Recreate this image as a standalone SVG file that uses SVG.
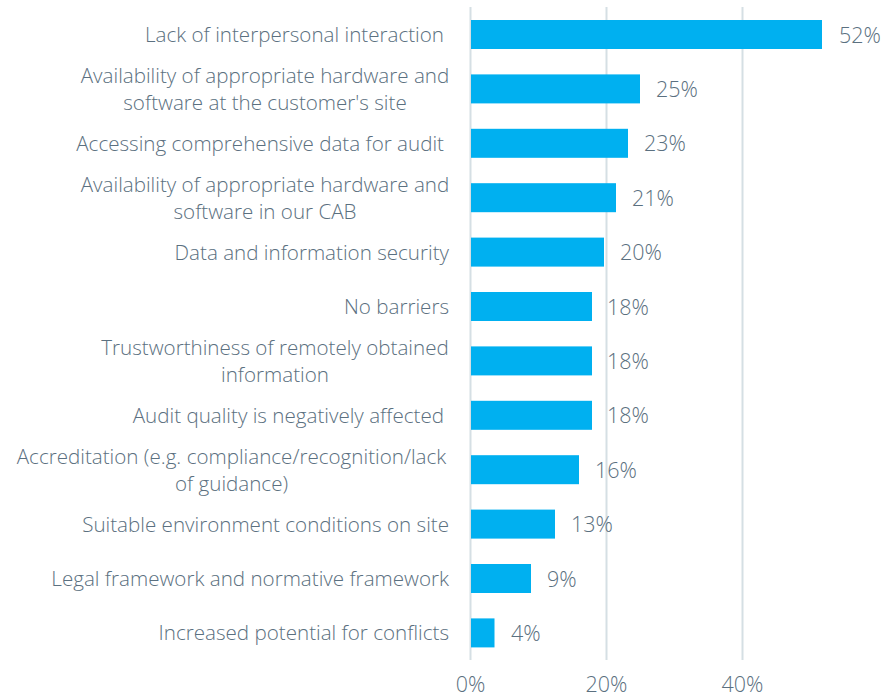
<svg xmlns="http://www.w3.org/2000/svg" width="886" height="699" viewBox="0 0 886 699">
<style>
.cat{font-family:"Open Sans","Liberation Sans",sans-serif;font-weight:300;font-size:20.6px;fill:#5b7080}
.val{font-family:"Open Sans","Liberation Sans",sans-serif;font-weight:300;font-size:21.5px;fill:#5b7080}
.grid{stroke:#d5dfe4;stroke-width:2}
.bar{fill:#00b0f0}
</style>
<rect width="886" height="699" fill="#ffffff"/>
<g id="gridlines">
<line class="grid" x1="470.5" y1="7" x2="470.5" y2="660"/>
<line class="grid" x1="606.5" y1="7" x2="606.5" y2="660"/>
<line class="grid" x1="742.5" y1="7" x2="742.5" y2="660"/>
</g>
<g id="axis">
<text class="val" x="470.5" y="692" text-anchor="middle">0%</text>
<text class="val" x="606.5" y="692" text-anchor="middle">20%</text>
<text class="val" x="742.5" y="692" text-anchor="middle">40%</text>
</g>
<g id="bar0"><rect class="bar" x="471" y="20" width="351" height="29"/><text class="cat" x="444" y="41.5" text-anchor="end">Lack of interpersonal interaction</text><text class="val" x="839" y="42.5">52%</text></g>
<g id="bar1"><rect class="bar" x="471" y="74.4" width="169" height="29"/><text class="cat" x="265" y="82.9" text-anchor="middle">Availability of appropriate hardware and</text><text class="cat" x="265" y="109.9" text-anchor="middle">software at the customer's site</text><text class="val" x="656" y="96.9">25%</text></g>
<g id="bar2"><rect class="bar" x="471" y="128.8" width="157" height="29"/><text class="cat" x="444" y="150.8" text-anchor="end">Accessing comprehensive data for audit</text><text class="val" x="644" y="151.3">23%</text></g>
<g id="bar3"><rect class="bar" x="471" y="183.2" width="145" height="29"/><text class="cat" x="265" y="191.7" text-anchor="middle">Availability of appropriate hardware and</text><text class="cat" x="265" y="218.7" text-anchor="middle">software in our CAB</text><text class="val" x="632" y="205.7">21%</text></g>
<g id="bar4"><rect class="bar" x="471" y="237.6" width="133" height="29"/><text class="cat" x="449" y="259.6" text-anchor="end">Data and information security</text><text class="val" x="620" y="260.1">20%</text></g>
<g id="bar5"><rect class="bar" x="471" y="292" width="121" height="29"/><text class="cat" x="449" y="314" text-anchor="end">No barriers</text><text class="val" x="607" y="314.5">18%</text></g>
<g id="bar6"><rect class="bar" x="471" y="346.4" width="121" height="29"/><text class="cat" x="275" y="354.9" text-anchor="middle">Trustworthiness of remotely obtained</text><text class="cat" x="275" y="381.9" text-anchor="middle">information</text><text class="val" x="607" y="368.9">18%</text></g>
<g id="bar7"><rect class="bar" x="471" y="400.8" width="121" height="29"/><text class="cat" x="444" y="422.8" text-anchor="end">Audit quality is negatively affected</text><text class="val" x="607" y="423.3">18%</text></g>
<g id="bar8"><rect class="bar" x="471" y="455.2" width="108" height="29"/><text class="cat" x="231.5" y="463.7" text-anchor="middle">Accreditation (e.g. compliance/recognition/lack</text><text class="cat" x="231.5" y="490.7" text-anchor="middle">of guidance)</text><text class="val" x="595" y="477.7">16%</text></g>
<g id="bar9"><rect class="bar" x="471" y="509.6" width="84" height="29"/><text class="cat" x="449" y="531.6" text-anchor="end">Suitable environment conditions on site</text><text class="val" x="571" y="532.1">13%</text></g>
<g id="bar10"><rect class="bar" x="471" y="564" width="60" height="29"/><text class="cat" x="449" y="586" text-anchor="end">Legal framework and normative framework</text><text class="val" x="547" y="586.5">9%</text></g>
<g id="bar11"><rect class="bar" x="471" y="618.4" width="23.5" height="29"/><text class="cat" x="449" y="640.4" text-anchor="end">Increased potential for conflicts</text><text class="val" x="511" y="640.9">4%</text></g>
</svg>
